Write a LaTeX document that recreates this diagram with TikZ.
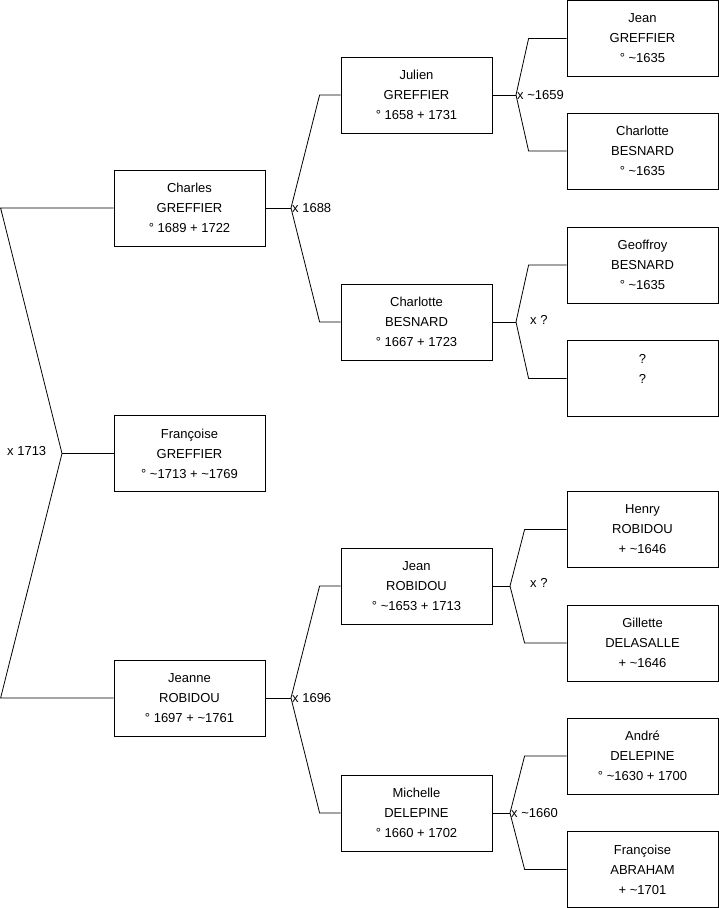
\documentclass[tikz,border=0pt]{standalone}
\usepackage{fontspec}
\setmainfont{Liberation Sans}
\newcommand{\tld}{\textasciitilde}
\tikzset{
  person/.style={draw=black, line width=0.8pt, rectangle, inner sep=0pt,
    minimum width=151pt, minimum height=76pt, align=center,
    font=\fontsize{13pt}{20pt}\selectfont},
  link/.style={draw=black, line width=0.8pt},
  wed/.style={inner sep=1pt, font=\fontsize{13pt}{20pt}\selectfont},
}
\begin{document}
\begin{tikzpicture}[x=1pt,y=-1pt]
\useasboundingbox (0,0) rectangle (719,908);
% generation 1
\node[person] (charles) at (189.5,208) {Charles\\GREFFIER\\° 1689 + 1722};
\node[person] (francoise) at (189.5,453.5) {Françoise\\GREFFIER\\° \tld1713 + \tld1769};
\node[person] (jeanne) at (189.5,698) {Jeanne\\ROBIDOU\\° 1697 + \tld1761};
% generation 2
\node[person] (julien) at (416.5,95) {Julien\\GREFFIER\\° 1658 + 1731};
\node[person] (charlotte) at (416.5,322) {Charlotte\\BESNARD\\° 1667 + 1723};
\node[person] (jeanr) at (416.5,586) {Jean\\ROBIDOU\\° \tld1653 + 1713};
\node[person] (michelle) at (416.5,813) {Michelle\\DELEPINE\\° 1660 + 1702};
% generation 3
\node[person] (jeang) at (642.5,38.5) {Jean\\GREFFIER\\° \tld1635};
\node[person] (charlotteb) at (642.5,151) {Charlotte\\BESNARD\\° \tld1635};
\node[person] (geoffroy) at (642.5,265) {Geoffroy\\BESNARD\\° \tld1635};
\node[person] (unknown) at (642.5,378.5) {?\\?\\\mbox{}};
\node[person] (henry) at (642.5,529.5) {Henry\\ROBIDOU\\+ \tld1646};
\node[person] (gillette) at (642.5,643) {Gillette\\DELASALLE\\+ \tld1646};
\node[person] (andre) at (642.5,756) {André\\DELEPINE\\° \tld1630 + 1700};
\node[person] (francoisea) at (642.5,869.4) {Françoise\\ABRAHAM\\+ \tld1701};
% junctions
\coordinate (j0) at (62,453.5);
\coordinate (j1) at (291,208);
\coordinate (j6) at (291,698);
\coordinate (j2) at (516,95);
\coordinate (j3) at (516,322);
\coordinate (j4) at (510,586);
\coordinate (j5) at (510,813);
% connectors
\draw[link] (francoise.west) -- (j0);
\draw[link] (j0) -- ([xshift=-113pt]charles.west) -- (charles.west);
\draw[link] (j0) -- ([xshift=-113pt]jeanne.west) -- (jeanne.west);
\draw[link] (charles.east) -- (j1);
\draw[link] (j1) -- ([xshift=-21pt]julien.west) -- (julien.west);
\draw[link] (j1) -- ([xshift=-21pt]charlotte.west) -- (charlotte.west);
\draw[link] (jeanne.east) -- (j6);
\draw[link] (j6) -- ([xshift=-21pt]jeanr.west) -- (jeanr.west);
\draw[link] (j6) -- ([xshift=-21pt]michelle.west) -- (michelle.west);
\draw[link] (julien.east) -- (j2);
\draw[link] (j2) -- ([xshift=-38pt]jeang.west) -- (jeang.west);
\draw[link] (j2) -- ([xshift=-38pt]charlotteb.west) -- (charlotteb.west);
\draw[link] (charlotte.east) -- (j3);
\draw[link] (j3) -- ([xshift=-38pt]geoffroy.west) -- (geoffroy.west);
\draw[link] (j3) -- ([xshift=-38pt]unknown.west) -- (unknown.west);
\draw[link] (jeanr.east) -- (j4);
\draw[link] (j4) -- ([xshift=-42pt]henry.west) -- (henry.west);
\draw[link] (j4) -- ([xshift=-42pt]gillette.west) -- (gillette.west);
\draw[link] (michelle.east) -- (j5);
\draw[link] (j5) -- ([xshift=-42pt]andre.west) -- (andre.west);
\draw[link] (j5) -- ([xshift=-42pt]francoisea.west) -- (francoisea.west);
% marriage labels
\node[wed, anchor=west] (w0) at (6,451) {x 1713};
\node[wed, anchor=west] (w1) at (j1) {x 1688};
\node[wed, anchor=west] (w6) at (j6) {x 1696};
\node[wed, anchor=west] (w2) at (j2) {x \tld1659};
\node[wed, anchor=west] (w3) at (529,320) {x ?};
\node[wed, anchor=west] (w4) at (529,583) {x ?};
\node[wed, anchor=west] (w5) at (j5) {x \tld1660};
\end{tikzpicture}
\end{document}
